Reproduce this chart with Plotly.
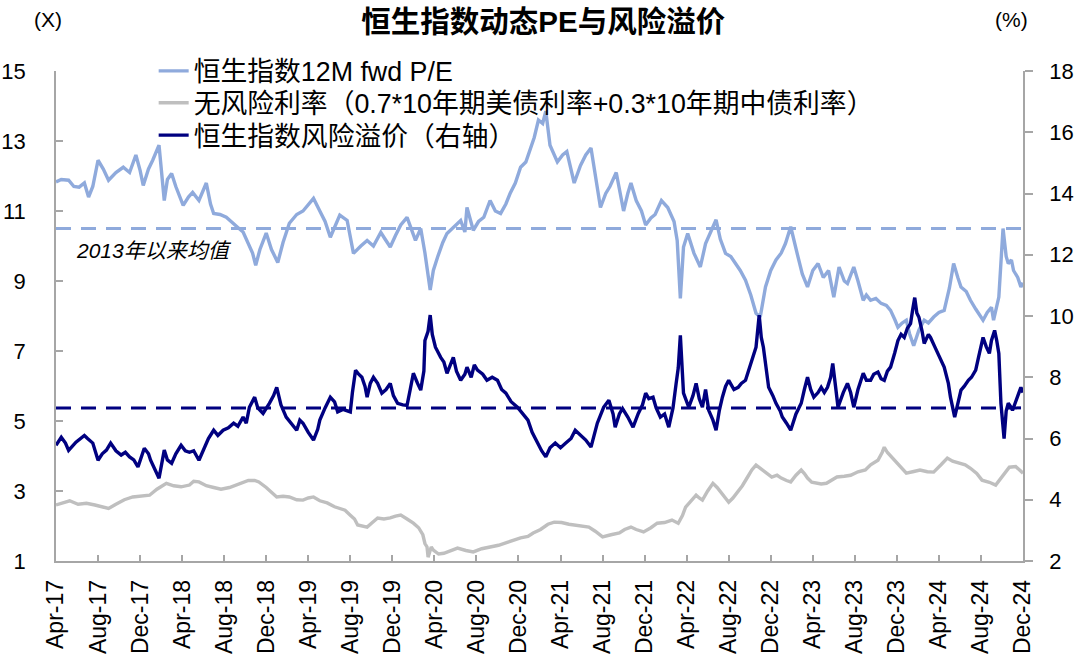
import plotly.graph_objects as go

# ---------------- data (months since Apr-2017, value) ----------------
tick_labels = ["Apr-17", "Aug-17", "Dec-17", "Apr-18", "Aug-18", "Dec-18", "Apr-19", "Aug-19",
               "Dec-19", "Apr-20", "Aug-20", "Dec-20", "Apr-21", "Aug-21", "Dec-21", "Apr-22",
               "Aug-22", "Dec-22", "Apr-23", "Aug-23", "Dec-23", "Apr-24", "Aug-24", "Dec-24"]
tick_months = [4 * i for i in range(len(tick_labels))]

# Hang Seng 12M fwd P/E (left axis, x)
pe_points = [
    (0.0, 11.83), (0.5, 11.9), (1.2, 11.88), (1.7, 11.7), (2.2, 11.68), (2.7, 11.8), (3.1, 11.4),
    (3.5, 11.7), (4.0, 12.45), (4.5, 12.2), (5.0, 11.88), (5.7, 12.1), (6.4, 12.25), (7.0, 12.1),
    (7.6, 12.6), (8.0, 12.16), (8.3, 11.73), (8.8, 12.2), (9.2, 12.45), (9.8, 12.88), (10.3, 11.3),
    (10.6, 11.9), (11.0, 12.07), (11.4, 11.7), (12.1, 11.16), (12.6, 11.4), (13.0, 11.53),
    (13.6, 11.3), (14.3, 11.8), (14.7, 11.2), (15.0, 10.93), (15.6, 10.9), (16.2, 10.82),
    (16.8, 10.65), (17.3, 10.53), (17.8, 10.4), (18.3, 10.07), (18.7, 9.8), (19.0, 9.45),
    (19.4, 9.9), (20.0, 10.37), (20.5, 9.9), (21.1, 9.53), (21.6, 10.1), (22.2, 10.65),
    (22.9, 10.9), (23.5, 11.0), (24.0, 11.2), (24.5, 11.36), (25.1, 11.0), (25.6, 10.7),
    (26.1, 10.25), (26.6, 10.6), (27.0, 10.88), (27.7, 10.73), (28.0, 10.3), (28.3, 9.79),
    (29.0, 10.0), (29.6, 10.16), (30.2, 10.0), (30.9, 10.39), (31.3, 10.2), (31.8, 9.97),
    (32.3, 10.3), (32.8, 10.6), (33.4, 10.82), (33.8, 10.5), (34.2, 10.16), (34.7, 10.5),
    (35.1, 9.8), (35.6, 8.74), (35.9, 9.3), (36.3, 9.68), (36.8, 10.1), (37.2, 10.36),
    (37.8, 10.53), (38.5, 10.73), (38.9, 10.4), (39.1, 11.1), (39.7, 10.45), (40.2, 10.7),
    (40.7, 10.82), (41.3, 11.3), (41.8, 11.0), (42.3, 10.93), (42.8, 11.2), (43.2, 11.5),
    (43.7, 11.8), (44.2, 12.25), (44.7, 12.4), (45.1, 12.73), (45.5, 13.1), (45.9, 13.6),
    (46.3, 13.5), (46.6, 13.85), (47.0, 12.88), (47.7, 12.4), (48.2, 12.6), (48.6, 12.7),
    (49.0, 12.2), (49.3, 11.8), (49.9, 12.3), (50.4, 12.6), (50.9, 12.8), (51.3, 12.0),
    (51.8, 11.1), (52.3, 11.5), (52.7, 11.7), (53.3, 12.1), (53.7, 11.5), (54.0, 11.0),
    (54.4, 11.5), (54.7, 11.8), (55.2, 11.3), (55.7, 11.0), (56.1, 10.6), (56.6, 10.8),
    (57.0, 10.9), (57.6, 11.3), (58.2, 11.1), (58.8, 10.7), (59.1, 10.16), (59.4, 8.5),
    (59.7, 9.97), (60.1, 10.36), (60.7, 9.79), (61.3, 9.4), (61.8, 10.07), (62.3, 10.4),
    (62.8, 10.75), (63.2, 10.2), (63.7, 9.79), (64.2, 9.7), (64.7, 9.5), (65.1, 9.3),
    (65.6, 9.02), (66.1, 8.6), (66.6, 8.08), (67.0, 7.97), (67.5, 8.83), (68.0, 9.3),
    (68.5, 9.6), (69.0, 9.8), (69.4, 10.07), (69.9, 10.55), (70.6, 9.68), (71.0, 9.2),
    (71.5, 8.83), (72.0, 9.3), (72.5, 9.5), (73.0, 9.1), (73.5, 9.3), (74.0, 8.54), (74.5, 9.4),
    (75.0, 9.0), (75.3, 8.93), (75.9, 9.4), (76.3, 9.0), (76.8, 8.45), (77.1, 8.6), (77.5, 8.45),
    (78.0, 8.5), (78.5, 8.36), (79.0, 8.3), (79.4, 8.16), (79.8, 7.9), (80.1, 7.68), (80.5, 7.8),
    (80.9, 7.88), (81.2, 7.5), (81.6, 7.15), (82.1, 7.6), (82.6, 7.88), (83.0, 7.8), (83.5, 7.97),
    (84.0, 8.1), (84.5, 8.16), (85.0, 8.8), (85.4, 9.5), (85.8, 9.1), (86.1, 8.83), (86.6, 8.7),
    (87.0, 8.45), (87.5, 8.2), (88.2, 7.88), (88.6, 8.1), (89.0, 8.25), (89.2, 7.88),
    (89.7, 8.54), (90.1, 10.5), (90.4, 9.7), (90.6, 9.5), (90.9, 9.6), (91.1, 9.3), (91.5, 9.1),
    (91.8, 8.83), (92.0, 8.95),
]

# Risk-free rate 0.7*UST10Y + 0.3*CGB10Y (left axis)
rf_points = [
    (0.0, 2.6), (0.6, 2.65), (1.3, 2.72), (2.1, 2.62), (2.9, 2.65), (3.7, 2.6), (4.4, 2.55),
    (5.0, 2.5), (5.7, 2.62), (6.5, 2.75), (7.3, 2.83), (8.1, 2.85), (8.9, 2.88), (9.6, 3.05),
    (10.5, 3.22), (11.2, 3.15), (11.9, 3.12), (12.7, 3.17), (13.1, 3.28), (13.6, 3.26),
    (14.3, 3.15), (15.0, 3.1), (15.7, 3.05), (16.5, 3.1), (17.3, 3.2), (18.3, 3.3), (18.9, 3.3),
    (19.3, 3.26), (20.0, 3.1), (20.5, 2.95), (21.0, 2.83), (21.6, 2.85), (22.2, 2.83),
    (22.9, 2.75), (23.5, 2.74), (24.0, 2.8), (24.5, 2.83), (25.1, 2.72), (25.8, 2.66),
    (26.5, 2.55), (27.0, 2.51), (27.5, 2.45), (28.0, 2.31), (28.4, 2.2), (28.7, 2.03),
    (29.1, 2.0), (29.6, 1.97), (30.1, 2.1), (30.6, 2.23), (31.2, 2.2), (31.8, 2.23),
    (32.3, 2.28), (32.8, 2.31), (33.4, 2.2), (34.0, 2.08), (34.5, 1.95), (34.9, 1.75),
    (35.1, 1.5), (35.3, 1.4), (35.4, 1.11), (35.7, 1.4), (35.9, 1.31), (36.4, 1.2), (36.9, 1.22),
    (37.5, 1.3), (38.2, 1.37), (39.0, 1.3), (39.7, 1.26), (40.5, 1.35), (41.3, 1.4), (42.1, 1.45),
    (43.0, 1.54), (43.6, 1.6), (44.2, 1.66), (44.9, 1.7), (45.4, 1.8), (46.1, 1.9), (46.8, 2.05),
    (47.4, 2.11), (48.1, 2.1), (48.8, 2.05), (49.3, 2.03), (50.0, 2.0), (50.7, 1.97),
    (51.3, 1.85), (52.0, 1.69), (52.8, 1.75), (53.6, 1.8), (54.1, 1.9), (54.7, 1.97),
    (55.2, 1.9), (55.9, 1.83), (56.6, 1.95), (57.2, 2.08), (57.9, 2.1), (58.6, 2.17),
    (59.2, 2.08), (59.6, 2.3), (59.9, 2.54), (60.4, 2.7), (60.9, 2.88), (61.2, 2.8),
    (61.5, 2.74), (62.0, 3.0), (62.5, 3.22), (62.9, 3.1), (63.1, 3.02), (63.6, 2.85),
    (64.0, 2.68), (64.4, 2.8), (64.8, 2.94), (65.3, 3.15), (65.8, 3.4), (66.2, 3.6),
    (66.6, 3.74), (67.0, 3.65), (67.5, 3.55), (68.1, 3.4), (68.6, 3.45), (69.0, 3.37),
    (69.5, 3.3), (69.9, 3.26), (70.4, 3.45), (70.9, 3.6), (71.2, 3.5), (71.5, 3.37),
    (71.9, 3.25), (72.3, 3.22), (72.8, 3.2), (73.3, 3.22), (73.8, 3.3), (74.3, 3.4),
    (75.0, 3.42), (75.6, 3.45), (76.3, 3.55), (77.0, 3.6), (77.5, 3.75), (78.2, 3.88),
    (78.6, 4.1), (78.8, 4.25), (79.1, 4.1), (79.5, 3.97), (80.2, 3.75), (80.9, 3.51),
    (81.5, 3.55), (82.2, 3.6), (82.9, 3.55), (83.5, 3.54), (84.2, 3.75), (84.8, 3.94),
    (85.3, 3.85), (85.9, 3.8), (86.5, 3.75), (87.0, 3.65), (87.6, 3.5), (88.1, 3.31),
    (88.8, 3.25), (89.4, 3.17), (90.0, 3.4), (90.7, 3.68), (91.3, 3.7), (92.0, 3.51),
]

# Hang Seng risk premium (right axis, %)
rp_points = [
    (0.0, 5.78), (0.5, 6.04), (0.9, 5.85), (1.2, 5.61), (1.9, 5.88), (2.7, 6.1), (3.0, 6.0),
    (3.5, 5.85), (4.0, 5.29), (4.4, 5.5), (4.8, 5.62), (5.2, 5.85), (5.7, 5.6), (6.2, 5.46),
    (6.6, 5.55), (7.0, 5.4), (7.4, 5.3), (7.8, 5.07), (8.4, 5.68), (8.8, 5.5), (9.0, 5.29),
    (9.4, 5.0), (9.8, 4.7), (10.3, 5.62), (10.6, 5.3), (11.0, 5.19), (11.4, 5.5), (11.9, 5.78),
    (12.3, 5.6), (12.7, 5.55), (13.1, 5.6), (13.6, 5.29), (14.1, 5.72), (14.5, 6.0), (15.0, 6.27),
    (15.4, 6.1), (15.9, 6.27), (16.4, 6.35), (16.9, 6.5), (17.3, 6.4), (17.8, 6.7), (18.1, 6.5),
    (18.4, 7.02), (18.9, 7.35), (19.2, 7.0), (19.7, 6.82), (20.3, 7.15), (20.7, 7.4),
    (21.0, 7.67), (21.4, 7.1), (21.9, 6.7), (22.4, 6.5), (22.9, 6.27), (23.2, 6.6), (23.5, 6.5),
    (24.0, 6.2), (24.5, 5.95), (24.9, 6.3), (25.1, 6.6), (25.6, 7.0), (26.1, 7.35), (26.5, 7.2),
    (26.8, 6.87), (27.3, 6.95), (28.0, 6.87), (28.2, 7.5), (28.5, 8.23), (28.8, 8.1),
    (29.1, 8.0), (29.4, 7.7), (29.6, 7.35), (29.9, 7.8), (30.2, 8.0), (30.6, 7.8), (31.0, 7.48),
    (31.4, 7.6), (31.8, 7.8), (32.1, 7.4), (32.5, 7.15), (33.0, 7.1), (33.4, 7.08), (33.7, 7.6),
    (34.0, 8.13), (34.4, 7.8), (34.7, 7.58), (35.0, 8.2), (35.1, 9.2), (35.4, 9.5),
    (35.6, 10.03), (35.8, 9.4), (36.1, 8.98), (36.6, 8.65), (36.9, 8.5), (37.2, 8.13),
    (37.5, 8.4), (37.8, 8.65), (38.1, 8.2), (38.5, 7.9), (38.9, 8.1), (39.1, 8.33), (39.5, 8.0),
    (39.8, 8.4), (40.1, 8.23), (40.6, 8.1), (41.0, 7.9), (41.5, 8.0), (42.0, 7.9), (42.4, 7.6),
    (42.8, 7.48), (43.3, 7.2), (43.9, 7.02), (44.4, 6.8), (44.9, 6.6), (45.3, 6.2),
    (45.8, 5.85), (46.2, 5.6), (46.6, 5.4), (47.0, 5.7), (47.5, 5.85), (48.0, 5.7),
    (48.5, 5.85), (49.0, 6.0), (49.4, 6.27), (49.9, 6.1), (50.4, 5.95), (50.9, 5.72),
    (51.2, 6.1), (51.5, 6.5), (52.1, 7.02), (52.6, 7.25), (53.0, 6.8), (53.2, 6.37),
    (53.6, 6.8), (53.9, 6.98), (54.4, 6.7), (54.9, 6.37), (55.4, 6.82), (55.8, 7.1),
    (56.1, 7.48), (56.4, 7.3), (56.8, 7.35), (57.1, 7.0), (57.5, 6.7), (57.9, 6.8),
    (58.3, 6.37), (58.7, 7.0), (59.0, 7.8), (59.2, 8.3), (59.4, 9.37), (59.7, 7.48),
    (60.2, 7.02), (60.6, 7.4), (60.9, 7.8), (61.2, 7.3), (61.5, 7.02), (61.8, 7.6),
    (62.1, 6.92), (62.5, 6.6), (62.8, 6.27), (63.1, 6.9), (63.4, 7.35), (63.7, 7.7),
    (64.0, 7.9), (64.5, 7.6), (64.9, 7.67), (65.2, 7.8), (65.6, 7.9), (65.9, 8.2), (66.1, 8.45),
    (66.4, 8.7), (66.6, 8.98), (66.9, 10.03), (67.1, 9.3), (67.3, 8.98), (67.6, 8.2),
    (67.8, 7.67), (68.2, 7.4), (68.5, 7.15), (68.9, 6.9), (69.1, 6.7), (69.5, 6.5),
    (69.9, 6.27), (70.4, 6.8), (70.9, 7.15), (71.2, 7.6), (71.5, 8.0), (71.8, 7.6),
    (72.1, 7.35), (72.5, 7.5), (72.8, 7.67), (73.1, 7.5), (73.4, 7.67), (73.7, 8.0),
    (73.9, 8.45), (74.2, 7.6), (74.4, 7.02), (74.9, 7.5), (75.3, 7.8), (75.6, 7.5),
    (75.9, 7.02), (76.3, 7.6), (76.8, 8.13), (77.1, 7.9), (77.5, 7.9), (77.8, 8.1),
    (78.2, 8.17), (78.5, 7.95), (78.8, 7.9), (79.1, 8.2), (79.4, 8.33), (79.8, 8.8),
    (80.1, 9.2), (80.4, 9.4), (80.7, 9.3), (81.0, 9.6), (81.3, 9.75), (81.5, 10.2),
    (81.7, 10.6), (81.9, 10.1), (82.1, 9.96), (82.4, 9.5), (82.6, 9.1), (83.0, 9.4),
    (83.2, 9.3), (83.6, 9.0), (83.9, 8.78), (84.2, 8.6), (84.5, 8.33), (84.9, 7.8),
    (85.1, 7.35), (85.5, 6.7), (85.8, 7.1), (86.1, 7.58), (86.4, 7.7), (86.8, 7.9),
    (87.1, 8.0), (87.5, 8.23), (87.8, 8.7), (88.2, 9.3), (88.5, 9.0), (88.8, 8.78),
    (89.0, 9.2), (89.3, 9.53), (89.5, 9.2), (89.7, 8.78), (89.9, 7.15), (90.2, 6.0),
    (90.4, 6.9), (90.6, 7.15), (90.9, 7.0), (91.0, 6.92), (91.3, 7.2), (91.6, 7.5),
    (91.8, 7.67), (92.0, 7.5),
]

pe_avg_since_2013 = 10.5     # x, left axis
rp_avg_since_2013 = 7.0      # %, right axis

names = ["恒生指数12M fwd P/E",
         "无风险利率（0.7*10年期美债利率+0.3*10年期中债利率）",
         "恒生指数风险溢价（右轴）"]
colors = ["#8FAADC", "#BFBFBF", "#000080"]

# ---------------- figure ----------------
FONT = "Liberation Sans, Arial, 'Noto Sans CJK SC', sans-serif"
AX = "#A6A6A6"

fig = go.Figure()
series = [(pe_points, "y"), (rf_points, "y"), (rp_points, "y2")]
legend_ids = ["legend", "legend2", "legend3"]
for (pts, ax), name, col, lg in zip(series, names, colors, legend_ids):
    fig.add_trace(go.Scatter(
        x=[p[0] for p in pts], y=[p[1] for p in pts], name=name, yaxis=ax, legend=lg,
        mode="lines", line=dict(color=col, width=3.4), hoverinfo="skip"))

fig.add_shape(type="line", xref="paper", x0=0, x1=1, yref="y",
              y0=pe_avg_since_2013, y1=pe_avg_since_2013,
              line=dict(color=colors[0], width=3, dash="15px,10px"), layer="below")
fig.add_shape(type="line", xref="paper", x0=0, x1=1, yref="y2",
              y0=rp_avg_since_2013, y1=rp_avg_since_2013,
              line=dict(color=colors[2], width=3, dash="15px,10px"), layer="below")

fig.add_annotation(text="<i>2013年以来均值</i>", xref="paper", x=0.019, xanchor="left",
                   yref="y", y=9.88, yanchor="middle", showarrow=False,
                   font=dict(size=21, color="#000000", family=FONT))
fig.add_annotation(text="(X)", xref="paper", x=-0.008, xanchor="center",
                   yref="paper", y=1.105, yanchor="middle", showarrow=False,
                   font=dict(size=21, color="#000000", family=FONT))
fig.add_annotation(text="(%)", xref="paper", x=0.988, xanchor="center",
                   yref="paper", y=1.105, yanchor="middle", showarrow=False,
                   font=dict(size=21, color="#000000", family=FONT))

legend_common = dict(x=0.101, xanchor="left", yanchor="middle", bgcolor="rgba(0,0,0,0)",
                     font=dict(size=26.8, color="#000000", family=FONT), itemwidth=30)

fig.update_layout(
    width=1080, height=662,
    margin=dict(l=56, r=57, t=71, b=101),
    paper_bgcolor="white", plot_bgcolor="white",
    font=dict(family=FONT, color="#000000"),
    title=dict(text="<b>恒生指数动态PE与风险溢价</b>", x=0.503, xanchor="center",
               y=0.968, yanchor="middle", font=dict(size=29.5, color="#000000", family=FONT)),
    showlegend=True,
    legend=dict(y=1.0, **legend_common),
    legend2=dict(y=0.935, **legend_common),
    legend3=dict(y=0.869, **legend_common),
    xaxis=dict(range=[0, 92], tickmode="array", tickvals=tick_months, ticktext=tick_labels,
               tickangle=-90, ticks="inside", ticklen=6, tickcolor=AX, tickwidth=1.5,
               showline=True, linecolor=AX, linewidth=1.5, showgrid=False, zeroline=False,
               tickfont=dict(size=23, family=FONT), ticklabelstandoff=8, automargin=False),
    yaxis=dict(range=[1, 15], dtick=2, tick0=1, ticks="inside", ticklen=7, tickcolor=AX,
               tickwidth=1.5, showline=True, linecolor=AX, linewidth=1.5, showgrid=False,
               zeroline=False, tickfont=dict(size=22, family=FONT), ticklabelstandoff=24,
               automargin=False),
    yaxis2=dict(range=[2, 18], dtick=2, tick0=2, overlaying="y", side="right",
                ticks="outside", ticklen=8, tickcolor=AX, tickwidth=1.5, showline=True,
                linecolor=AX, linewidth=1.5, showgrid=False, zeroline=False,
                tickfont=dict(size=22, family=FONT), ticklabelstandoff=12, automargin=False),
)

fig.write_html("out.html", config={"displayModeBar": False},
               post_script="document.body.style.margin='0px';"
                           "document.body.style.overflow='hidden';")
